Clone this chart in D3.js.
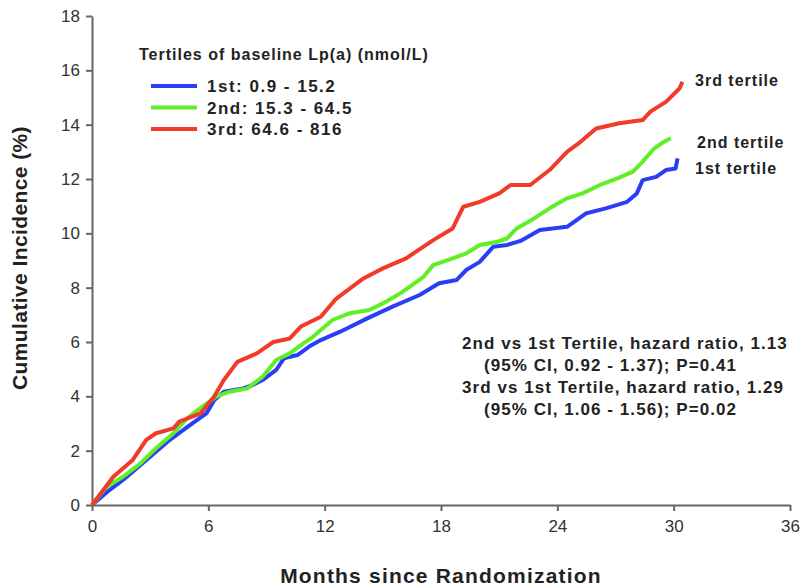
<!DOCTYPE html>
<html>
<head>
<meta charset="utf-8">
<script src="https://cdn.jsdelivr.net/npm/d3@7"></script>
<style>
  body { margin: 0; background: #fff; }
  text { font-family: "Liberation Sans", Arial, sans-serif; }
</style>
</head>
<body>
<div id="chart"></div>
<script>
// cumulative incidence (%) by month
const months1 = [0, 0.9, 1.6, 3.0, 4.0, 5.05, 5.9, 6.3, 6.8, 7.8, 8.3, 8.8, 9.5, 9.9, 10.6, 11.2, 11.8, 12.8, 14.2, 15.5, 16.9, 17.9, 18.8, 19.3, 20.0, 20.7, 21.4, 22.1, 23.1, 24.5, 25.5, 26.5, 27.6, 28.1, 28.4, 29.1, 29.6, 30.1, 30.2];
const first  = [0, 0.55, 0.92, 1.78, 2.39, 2.94, 3.37, 3.86, 4.17, 4.29, 4.42, 4.6, 4.97, 5.4, 5.52, 5.83, 6.07, 6.38, 6.87, 7.3, 7.73, 8.16, 8.28, 8.65, 8.95, 9.51, 9.57, 9.72, 10.12, 10.24, 10.74, 10.92, 11.16, 11.47, 11.96, 12.08, 12.33, 12.39, 12.76];

const months2 = [0, 0.75, 1.6, 2.5, 3.3, 4.2, 4.9, 5.7, 6.4, 7.1, 8.0, 8.8, 9.5, 10.2, 10.9, 11.4, 12.4, 13.3, 14.3, 15.0, 15.9, 17.1, 17.6, 18.6, 19.3, 20.0, 20.9, 21.4, 21.9, 22.8, 23.6, 24.5, 25.3, 26.2, 27.1, 27.9, 28.4, 29.0, 29.5, 29.85];
const second  = [0, 0.67, 1.04, 1.53, 2.09, 2.64, 3.19, 3.62, 3.99, 4.17, 4.29, 4.72, 5.34, 5.58, 5.95, 6.19, 6.81, 7.06, 7.18, 7.42, 7.79, 8.4, 8.83, 9.08, 9.26, 9.57, 9.69, 9.81, 10.18, 10.55, 10.92, 11.29, 11.47, 11.78, 12.02, 12.27, 12.64, 13.13, 13.37, 13.5];

const months3 = [0, 1.1, 2.1, 2.8, 3.3, 4.2, 4.5, 5.6, 6.3, 6.8, 7.5, 8.5, 9.35, 10.2, 10.8, 11.8, 12.6, 14.0, 15.0, 16.2, 17.6, 18.6, 19.15, 20.0, 21.0, 21.6, 22.6, 23.6, 24.5, 25.2, 26.0, 27.2, 28.4, 28.8, 29.6, 30.3, 30.45];
const third   = [0, 1.04, 1.66, 2.4, 2.64, 2.82, 3.07, 3.37, 3.99, 4.6, 5.27, 5.58, 6.0, 6.13, 6.58, 6.93, 7.6, 8.34, 8.71, 9.08, 9.75, 10.18, 10.98, 11.16, 11.47, 11.78, 11.78, 12.33, 13.0, 13.37, 13.86, 14.05, 14.17, 14.48, 14.84, 15.33, 15.58];

const seriesNames = ["1st: 0.9 - 15.2", "2nd: 15.3 - 64.5", "3rd: 64.6 - 816"];
const endLabels = ["1st tertile", "2nd tertile", "3rd tertile"];
const colors = ["#2a3ff5", "#5fef26", "#f23a2a"];
const xTicks = [0, 6, 12, 18, 24, 30, 36];
const yTicks = [0, 2, 4, 6, 8, 10, 12, 14, 16, 18];
const statLines = [
  "2nd vs 1st Tertile, hazard ratio, 1.13",
  "(95% CI, 0.92 - 1.37); P=0.41",
  "3rd vs 1st Tertile, hazard ratio, 1.29",
  "(95% CI, 1.06 - 1.56); P=0.02"
];

const series = [
  months1.map((m, i) => ({m: m, v: first[i]})),
  months2.map((m, i) => ({m: m, v: second[i]})),
  months3.map((m, i) => ({m: m, v: third[i]}))
];

const width = 802, height = 586;
const svg = d3.select("#chart").append("svg")
  .attr("width", width).attr("height", height);

const x = d3.scaleLinear().domain([0, 36]).range([92, 790]);
const y = d3.scaleLinear().domain([0, 18]).range([505, 16]);

// axes
const xAxis = svg.append("g")
  .attr("transform", "translate(0,505)")
  .call(d3.axisBottom(x).tickValues(xTicks).tickSize(6).tickSizeOuter(0).tickPadding(9));
const yAxis = svg.append("g")
  .attr("transform", "translate(92,0)")
  .call(d3.axisLeft(y).tickValues(yTicks).tickSize(6).tickSizeOuter(0).tickPadding(6));

[xAxis, yAxis].forEach(a => {
  a.select(".domain").attr("stroke", "#666").attr("stroke-width", 2);
  a.selectAll(".tick line").attr("stroke", "#666").attr("stroke-width", 2);
  a.selectAll(".tick text").attr("fill", "#333").style("font-size", "17px")
    .style("font-family", "'Liberation Sans', Arial, sans-serif");
});

// curves
const line = d3.line().x(d => x(d.m)).y(d => y(d.v));
svg.append("g").selectAll("path")
  .data(series)
  .enter().append("path")
    .attr("d", line)
    .attr("fill", "none")
    .attr("stroke", (d, i) => colors[i])
    .attr("stroke-width", 4)
    .attr("stroke-linejoin", "round");

function bold(sel, size, ls) {
  return sel.style("font-size", size + "px").style("font-weight", "bold")
    .style("letter-spacing", ls + "px").attr("fill", "#222");
}

// axis titles
bold(svg.append("text")
  .attr("x", 441).attr("y", 583)
  .attr("text-anchor", "middle"), 21, 1.2)
  .text("Months since Randomization");
bold(svg.append("text")
  .attr("transform", "translate(27,258) rotate(-90)")
  .attr("text-anchor", "middle"), 21, 0.4)
  .text("Cumulative Incidence (%)");

// legend
const legend = svg.append("g");
bold(legend.append("text")
  .attr("x", 139).attr("y", 60), 16, 1)
  .text("Tertiles of baseline Lp(a) (nmol/L)");
seriesNames.forEach((name, i) => {
  const ly = 86 + i * 21.5;
  legend.append("line")
    .attr("x1", 151).attr("x2", 197).attr("y1", ly).attr("y2", ly)
    .attr("stroke", colors[i]).attr("stroke-width", 4);
  bold(legend.append("text")
    .attr("x", 207).attr("y", ly + 6), 17, 1.5)
    .text(name);
});

// end-of-curve labels
const labelY = [168, 142, 80];
endLabels.forEach((lab, i) => {
  bold(svg.append("text")
    .attr("x", i === 1 ? 697 : 695).attr("y", labelY[i] + 6), 16, 1)
    .text(lab);
});

// hazard ratio annotation
statLines.forEach((s, i) => {
  bold(svg.append("text")
    .attr("x", i % 2 === 0 ? 462 : 484).attr("y", 349 + i * 22), 17, 1.05)
    .text(s);
});
</script>
</body>
</html>
